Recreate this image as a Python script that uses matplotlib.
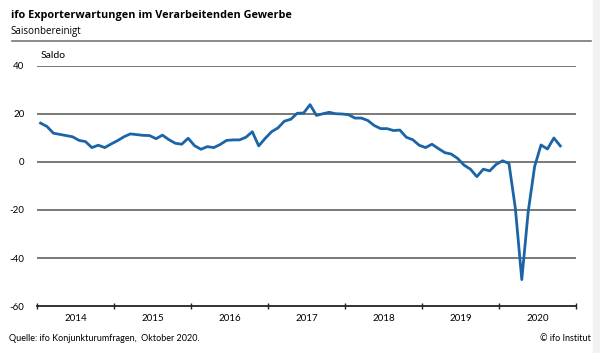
import matplotlib
matplotlib.use("Agg")
import matplotlib.pyplot as plt
import numpy as np

# ifo Exporterwartungen, monatlich, Jan 2014 - Okt 2020 (Saldo)
y2014 = [16.2, 14.8, 12.0, 11.5, 11.0, 10.5, 9.0, 8.5, 6.0, 7.0, 6.0, 7.5]
y2015 = [8.9, 10.5, 11.7, 11.4, 11.1, 11.0, 9.7, 11.2, 9.3, 7.8, 7.4, 9.9]
y2016 = [6.8, 5.3, 6.4, 6.0, 7.3, 9.0, 9.2, 9.2, 10.3, 12.6, 6.7, 9.8]
y2017 = [12.6, 14.2, 17.0, 17.8, 20.3, 20.4, 23.9, 19.4, 20.1, 20.7, 20.1, 20.0]
y2018 = [19.7, 18.3, 18.3, 17.3, 15.2, 13.9, 13.9, 13.1, 13.3, 10.3, 9.3, 7.0]
y2019 = [6.0, 7.4, 5.6, 3.9, 3.3, 1.5, -1.3, -3.0, -6.1, -3.0, -3.7, -1.0]
y2020 = [0.5, -0.6, -19.3, -49.0, -20.7, -1.9, 7.1, 5.4, 10.0, 6.7]
values = y2014 + y2015 + y2016 + y2017 + y2018 + y2019 + y2020

years = ["2014", "2015", "2016", "2017", "2018", "2019", "2020"]
yticks = [-60, -40, -20, 0, 20, 40]

plt.rcParams['font.family'] = ['Lato', 'DejaVu Sans']

fig = plt.figure(figsize=(6, 3.53), dpi=100)

# light grey strip at the right edge
fig.add_artist(plt.Rectangle((0.988, 0), 0.012, 1, color="#f2f2f2",
                             transform=fig.transFigure, zorder=0))

ax = fig.add_axes([0.0617, 0.1331, 0.8983, 0.680])

x = np.arange(len(values)) + 0.55
ax.plot(x, values, color="#1b65a6", lw=2.0, solid_joinstyle="round", zorder=3)

ax.set_xlim(0, 12 * len(years))
ax.set_ylim(-60, 40)

# grid lines
for v in yticks[1:]:
    ax.axhline(v, color="#6e6e6e", lw=1.3, zorder=1)

for s in ["left", "right", "top"]:
    ax.spines[s].set_visible(False)
ax.spines["bottom"].set_color("#222222")
ax.spines["bottom"].set_linewidth(1.3)

ax.set_yticks(yticks)
ax.set_yticklabels([str(v) for v in yticks], fontsize=7)
ax.tick_params(axis="y", length=0, pad=9)

ax.set_xticks(np.arange(0, 12 * len(years) + 1, 12))
ax.set_xticklabels([])
ax.tick_params(axis="x", which="major", direction="inout", length=5, width=1, color="#222222")
ax.set_xticks(np.arange(6, 12 * len(years), 12), minor=True)
ax.set_xticklabels(years, minor=True, fontsize=7)
ax.tick_params(axis="x", which="minor", length=0, pad=6)

# texts
fig.text(0.018, 0.955, "ifo Exporterwartungen im Verarbeitenden Gewerbe",
         fontsize=7.8, fontweight="bold", family=["Open Sans", "DejaVu Sans"], va="center")
fig.text(0.018, 0.912, "Saisonbereinigt", fontsize=7,
         family=["Open Sans", "DejaVu Sans"], va="center")
fig.add_artist(plt.Line2D([0.02, 0.985], [0.883, 0.883], color="#777777", lw=1.2,
                          transform=fig.transFigure))
fig.text(0.067, 0.843, "Saldo", fontsize=7.5, va="center")
fig.text(0.015, 0.04, "Quelle: ifo Konjunkturumfragen,  Oktober 2020.", fontsize=6.5, va="center")
fig.text(0.985, 0.04, "© ifo Institut", fontsize=6.5, va="center", ha="right")

fig.savefig("out.png", dpi=100)
